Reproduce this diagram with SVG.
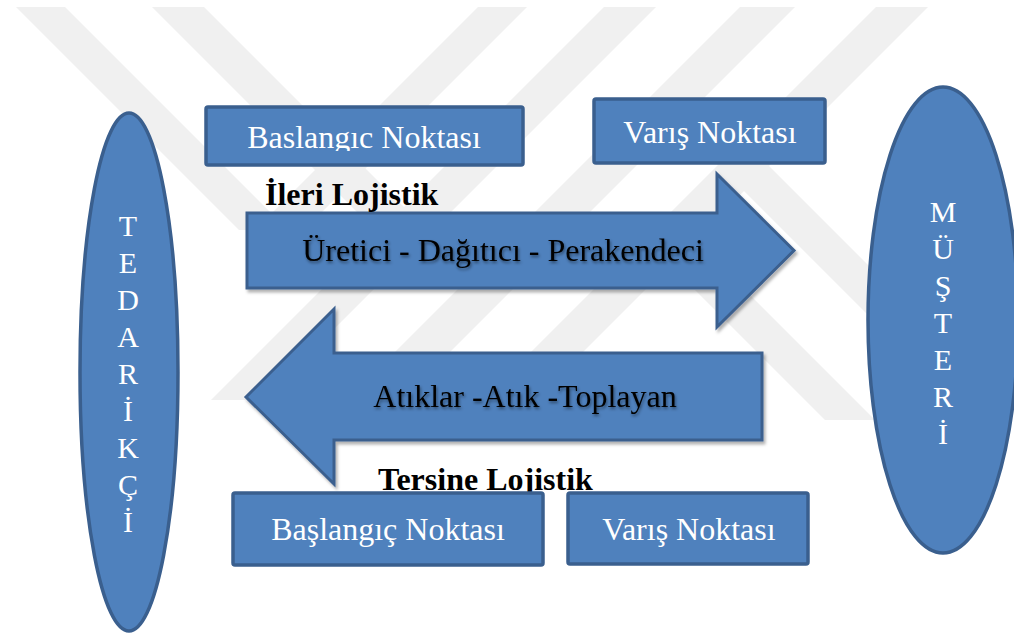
<svg xmlns="http://www.w3.org/2000/svg" width="1014" height="636" viewBox="0 0 1014 636">
  <defs>
    <style>
      .wm{fill:#f0f0f0}
      .box{fill:#4F81BD;stroke:#3A5F8E;stroke-width:3.5}
      .arrow{fill:#4F81BD;stroke:#3A5F8E;stroke-width:3;stroke-linejoin:miter}
      .wt{font-family:"Liberation Serif","Times New Roman","DejaVu Serif",serif;font-size:32px;fill:#ffffff;text-anchor:middle}
      .vt{font-family:"Liberation Serif","Times New Roman","DejaVu Serif",serif;font-size:30px;fill:#ffffff;text-anchor:middle}
      .bt{font-family:"Liberation Serif","Times New Roman","DejaVu Serif",serif;font-size:32px;fill:#000000;text-anchor:middle}
      .hd{font-family:"Liberation Serif","Times New Roman","DejaVu Serif",serif;font-size:32px;font-weight:bold;fill:#000000}
    </style>
    <filter id="shadow" x="-5%" y="-10%" width="115%" height="130%">
      <feDropShadow dx="2" dy="3" stdDeviation="1.5" flood-color="#000" flood-opacity="0.3"/>
    </filter>
    <filter id="tshadow" x="-5%" y="-30%" width="110%" height="160%">
      <feDropShadow dx="1" dy="2" stdDeviation="1.5" flood-color="#000" flood-opacity="0.45"/>
    </filter>
    <clipPath id="clipTop">
      <rect x="206" y="107" width="317" height="44"/>
    </clipPath>
  </defs>

  <rect x="0" y="0" width="1014" height="636" fill="#ffffff"/>

  <g id="watermark">
    <polygon class="wm" points="16,7 65,7 288,230 239,230"/>
    <polygon class="wm" points="152,7 204,7 427,230 375,230"/>
    <polygon class="wm" points="478,7 527,7 304,230 255,230"/>
    <polygon class="wm" points="604,7 656,7 263,400 211,400"/>
    <polygon class="wm" points="740,7 795,7 402,400 347,400"/>
    <polygon class="wm" points="876,7 928,7 535,400 483,400"/>
    <polygon class="wm" points="703,150 753,150 923,320 873,320"/>
    <polygon class="wm" points="695,290 745,290 875,420 825,420"/>
  </g>

  <g id="connectors">
    <g id="forward-arrow">
      <polygon class="arrow" filter="url(#shadow)" points="247,213 717,213 717,174 794,250.5 717,327 717,288 247,288"/>
      <text class="bt" x="503" y="261" filter="url(#tshadow)">Üretici - Dağıtıcı - Perakendeci</text>
    </g>
    <g id="reverse-arrow">
      <polygon class="arrow" filter="url(#shadow)" points="246,397 334,309 334,353 762,353 762,440 334,440 334,484"/>
      <text class="bt" x="525" y="407" filter="url(#tshadow)">Atıklar -Atık -Toplayan</text>
    </g>
  </g>

  <g id="label-ileri">
    <text class="hd" x="265" y="205">İleri Lojistik</text>
  </g>
  <g id="label-tersine">
    <text class="hd" x="378" y="490">Tersine Lojistik</text>
  </g>

  <g id="tedarikci">
    <ellipse class="box" cx="129" cy="372" rx="49" ry="259"/>
    <text class="vt" x="128" y="236">T</text>
    <text class="vt" x="128" y="273">E</text>
    <text class="vt" x="128" y="310">D</text>
    <text class="vt" x="128" y="347">A</text>
    <text class="vt" x="128" y="384">R</text>
    <text class="vt" x="128" y="421">İ</text>
    <text class="vt" x="128" y="458">K</text>
    <text class="vt" x="128" y="495">Ç</text>
    <text class="vt" x="128" y="532">İ</text>
  </g>

  <g id="musteri">
    <ellipse class="box" cx="943" cy="320" rx="75" ry="233"/>
    <text class="vt" x="943" y="222">M</text>
    <text class="vt" x="943" y="259">Ü</text>
    <text class="vt" x="943" y="296">Ş</text>
    <text class="vt" x="943" y="333">T</text>
    <text class="vt" x="943" y="370">E</text>
    <text class="vt" x="943" y="407">R</text>
    <text class="vt" x="943" y="444">İ</text>
  </g>

  <g id="baslangic-top">
    <rect class="box" x="206" y="107" width="317" height="58" rx="2"/>
    <text class="wt" x="364" y="148" clip-path="url(#clipTop)">Baslangıc Noktası</text>
  </g>

  <g id="varis-top">
    <rect class="box" x="594" y="99" width="231" height="64" rx="2"/>
    <text class="wt" x="710" y="143">Varış Noktası</text>
  </g>

  <g id="baslangic-bottom">
    <rect class="box" x="233" y="493" width="310" height="72" rx="2"/>
    <text class="wt" x="388" y="540">Başlangıç Noktası</text>
  </g>

  <g id="varis-bottom">
    <rect class="box" x="568" y="493" width="240" height="71" rx="2"/>
    <text class="wt" x="689" y="540">Varış Noktası</text>
  </g>
</svg>
